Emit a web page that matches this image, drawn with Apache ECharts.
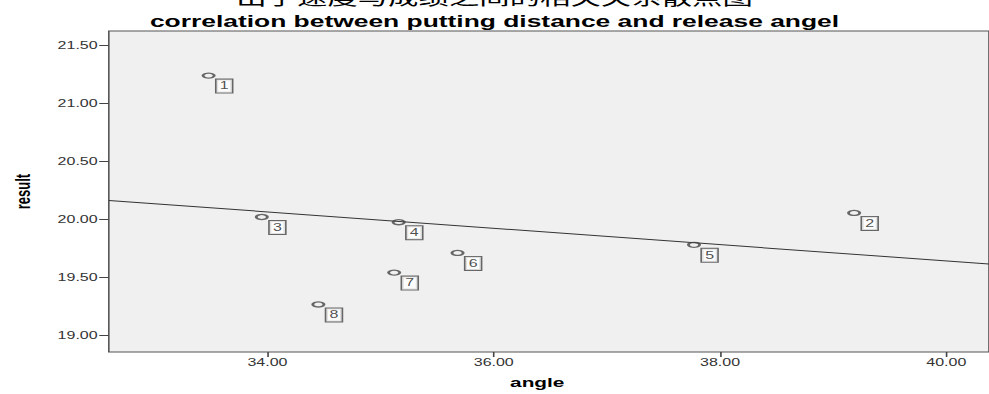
<!DOCTYPE html>
<html>
<head>
<meta charset="utf-8">
<script src="https://cdn.jsdelivr.net/npm/echarts@6/dist/echarts.min.js"></script>
<style>
html,body{margin:0;padding:0;background:#fff;overflow:hidden;width:989px;height:394px;}
#wrap{width:618px;height:394px;transform:scaleX(1.6003);transform-origin:0 0;}
</style>
</head>
<body>
<div id="wrap"></div>
<script>
// ---- data ----
const pointIds = ['1','2','3','4','5','6','7','8'];
const angleValues = [33.48, 39.185, 33.95, 35.16, 37.77, 35.68, 35.12, 34.45];
const resultValues = [21.24, 20.055, 20.02, 19.975, 19.78, 19.71, 19.54, 19.265];
const fitLineX = [32.598, 40.377];
const fitLineY = [20.163, 19.614];
const xTickValues = [34, 36, 38, 40];
const yTickValues = [19.0, 19.5, 20.0, 20.5, 21.0, 21.5];
const chartTitleCn = '出手速度与成绩之间的相关关系散点图';
const chartTitleEn = 'correlation between putting distance and release angel';
const xAxisTitle = 'angle';
const yAxisTitle = 'result';

const pts = angleValues.map((a, i) => ({ value: [a, resultValues[i]], name: pointIds[i] }));
const linePts = fitLineX.map((x, i) => [x, fitLineY[i]]);

const chart = echarts.init(document.getElementById('wrap'), null, { renderer: 'svg' });
chart.setOption({
  animation: false,
  backgroundColor: '#ffffff',
  title: [
    { text: chartTitleCn, left: 'center', top: -13, padding: 0,
      textStyle: { fontFamily: 'Noto Sans CJK SC', fontWeight: 'normal', fontSize: 19, color: '#000' } },
    { text: chartTitleEn, left: 'center', top: 13, padding: 0,
      textStyle: { fontFamily: 'Liberation Sans, Arial, sans-serif', fontWeight: 'bold', fontSize: 16.5, color: '#000' } }
  ],
  grid: { left: 63.4, right: -2, top: 31, bottom: 38, show: true, backgroundColor: '#f0f0f0', borderColor: '#555', borderWidth: 1 },
  xAxis: {
    type: 'value', min: 32.598, max: 40.377,
    name: xAxisTitle, nameLocation: 'middle', nameGap: 24,
    nameTextStyle: { fontFamily: 'Liberation Sans, Arial, sans-serif', fontWeight: 'bold', fontSize: 13, color: '#000', padding: [0, 14.6, 0, 0] },
    splitLine: { show: false },
    axisLine: { show: false },
    axisTick: { show: true, length: 5, customValues: xTickValues, lineStyle: { color: '#444' } },
    axisLabel: { customValues: xTickValues, margin: 6, fontFamily: 'Liberation Sans, Arial, sans-serif', fontSize: 10, color: '#333',
      formatter: v => v.toFixed(2) }
  },
  yAxis: {
    type: 'value', min: 18.855, max: 21.625,
    name: yAxisTitle, nameLocation: 'middle', nameGap: 47, nameRotate: 90,
    nameTextStyle: { fontFamily: 'Liberation Sans, Arial, sans-serif', fontWeight: 'bold', fontSize: 13, color: '#000' },
    splitLine: { show: false },
    axisLine: { show: false },
    axisTick: { show: true, length: 6, customValues: yTickValues, lineStyle: { color: '#444' } },
    axisLabel: { customValues: yTickValues, margin: 7, fontFamily: 'Liberation Sans, Arial, sans-serif', fontSize: 10, color: '#333',
      formatter: v => v.toFixed(2) }
  },
  series: [
    { type: 'line', data: linePts, symbol: 'none', silent: true,
      lineStyle: { color: '#333', width: 1 }, z: 2 },
    { type: 'scatter', data: pts, symbol: 'circle', symbolSize: [7, 5], z: 3,
      itemStyle: { color: 'rgba(0,0,0,0)', borderColor: '#444', borderWidth: 1.5 },
      label: { show: true, position: 'inside', offset: [9.75, 10.5], formatter: p => p.name,
        fontFamily: 'Liberation Sans, Arial, sans-serif', fontSize: 10, color: '#222',
        backgroundColor: '#ffffff', borderColor: '#444', borderWidth: 1, padding: [2, 2, 1, 2] } }
  ]
});
</script>
</body>
</html>
